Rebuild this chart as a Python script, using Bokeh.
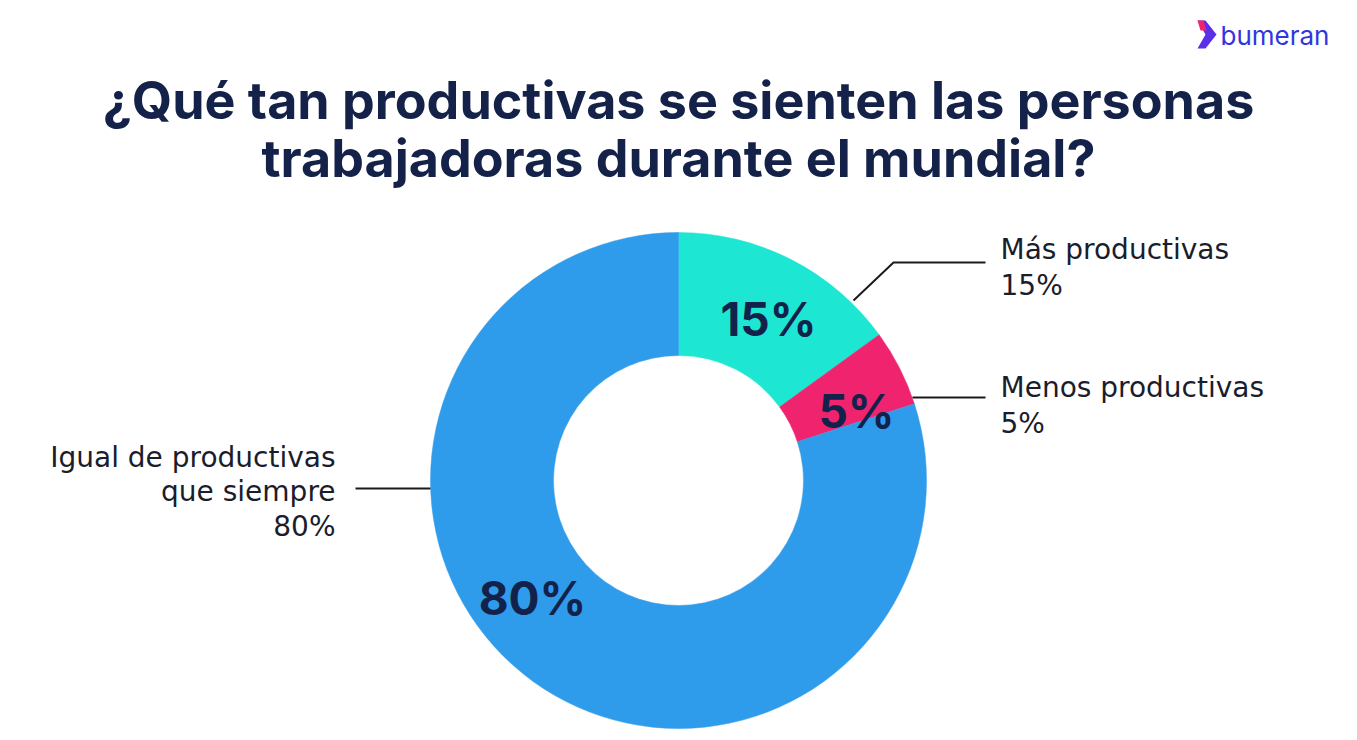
import math
from bokeh.plotting import figure
from bokeh.models import Range1d, ColumnDataSource
from bokeh.core.properties import value
from bokeh.embed import file_html
from bokeh.resources import INLINE

# ---- data ----
categories = ["Más productivas", "Menos productivas", "Igual de productivas que siempre"]
values = [15, 5, 80]
colors = ["#1DE6D3", "#F0246E", "#2F9BEB"]
pct_labels = ["15%", "5%", "80%"]

title_lines = ["¿Qué tan productivas se sienten las personas",
               "trabajadoras durante el mundial?"]

W, H = 1357, 740
def Y(py):
    return H - py

p = figure(width=W, height=H, x_range=Range1d(0, W), y_range=Range1d(0, H),
           output_backend="svg", toolbar_location=None, min_border=0,
           outline_line_color=None, background_fill_color="white")
p.axis.visible = False
p.grid.visible = False

cx, cy = 678, Y(480)
r_out, r_in = 248, 125

total = sum(values)
starts, ends = [], []
a = math.pi / 2
for v in values:
    span = v / total * 2 * math.pi
    starts.append(a - span)
    ends.append(a)
    a -= span

src = ColumnDataSource(dict(x=[cx]*3, y=[cy]*3, start=starts, end=ends, color=colors))
p.annular_wedge(x="x", y="y", inner_radius=r_in, outer_radius=r_out,
                start_angle="start", end_angle="end", fill_color="color",
                line_color="color", line_width=0.5, source=src)

# in-slice percent labels (layout positions)
lbl_pos = [(768, 318), (856, 410), (532, 597)]
p.text(x=[q[0] for q in lbl_pos], y=[Y(q[1]) for q in lbl_pos], text=pct_labels,
       text_font=value("Inter"), text_font_style="bold", text_font_size="46px",
       text_color="#13224A", text_align="center", text_baseline="middle")

# title
p.text(x=[678, 678], y=[Y(100), Y(158)], text=title_lines,
       text_font=value("Inter"), text_font_style="bold", text_font_size="52px",
       text_color="#14224A", text_align="center", text_baseline="middle")

# callout lines
p.line(x=[853, 893, 985], y=[Y(300), Y(262), Y(262)], line_color="#1b1b1b", line_width=2)
p.line(x=[912, 985], y=[Y(397), Y(397)], line_color="#1b1b1b", line_width=2)
p.line(x=[355, 430], y=[Y(488), Y(488)], line_color="#1b1b1b", line_width=2)

lab_font = value("DejaVu Sans")
p.text(x=[1000, 1000, 1000, 1000],
       y=[Y(249), Y(285), Y(387), Y(423)],
       text=[categories[0], f"{values[0]}%", categories[1], f"{values[1]}%"],
       text_font=lab_font, text_font_size="28px", text_color="#1a1d2c",
       text_align="left", text_baseline="middle")
p.text(x=[335, 335, 335], y=[Y(457), Y(491), Y(526)],
       text=["Igual de productivas", "que siempre", f"{values[2]}%"],
       text_font=lab_font, text_font_size="28px", text_color="#1a1d2c",
       text_align="right", text_baseline="middle")

# logo
p.patch(x=[1197, 1205, 1216, 1205, 1197, 1205], y=[Y(20), Y(20), Y(34), Y(48), Y(48), Y(34)],
        fill_color="#5B2FE8", line_color=None)
p.patch(x=[1197, 1203, 1206, 1200], y=[Y(20), Y(20), Y(30), Y(30)],
        fill_color="#F0246E", line_color=None)
p.text(x=[1220], y=[Y(35)], text=["bumeran"], text_font=value("Inter"),
       text_font_size="26px", text_color="#3136E0", text_align="left",
       text_baseline="middle")

open("out.html", "w").write(file_html(p, INLINE))
